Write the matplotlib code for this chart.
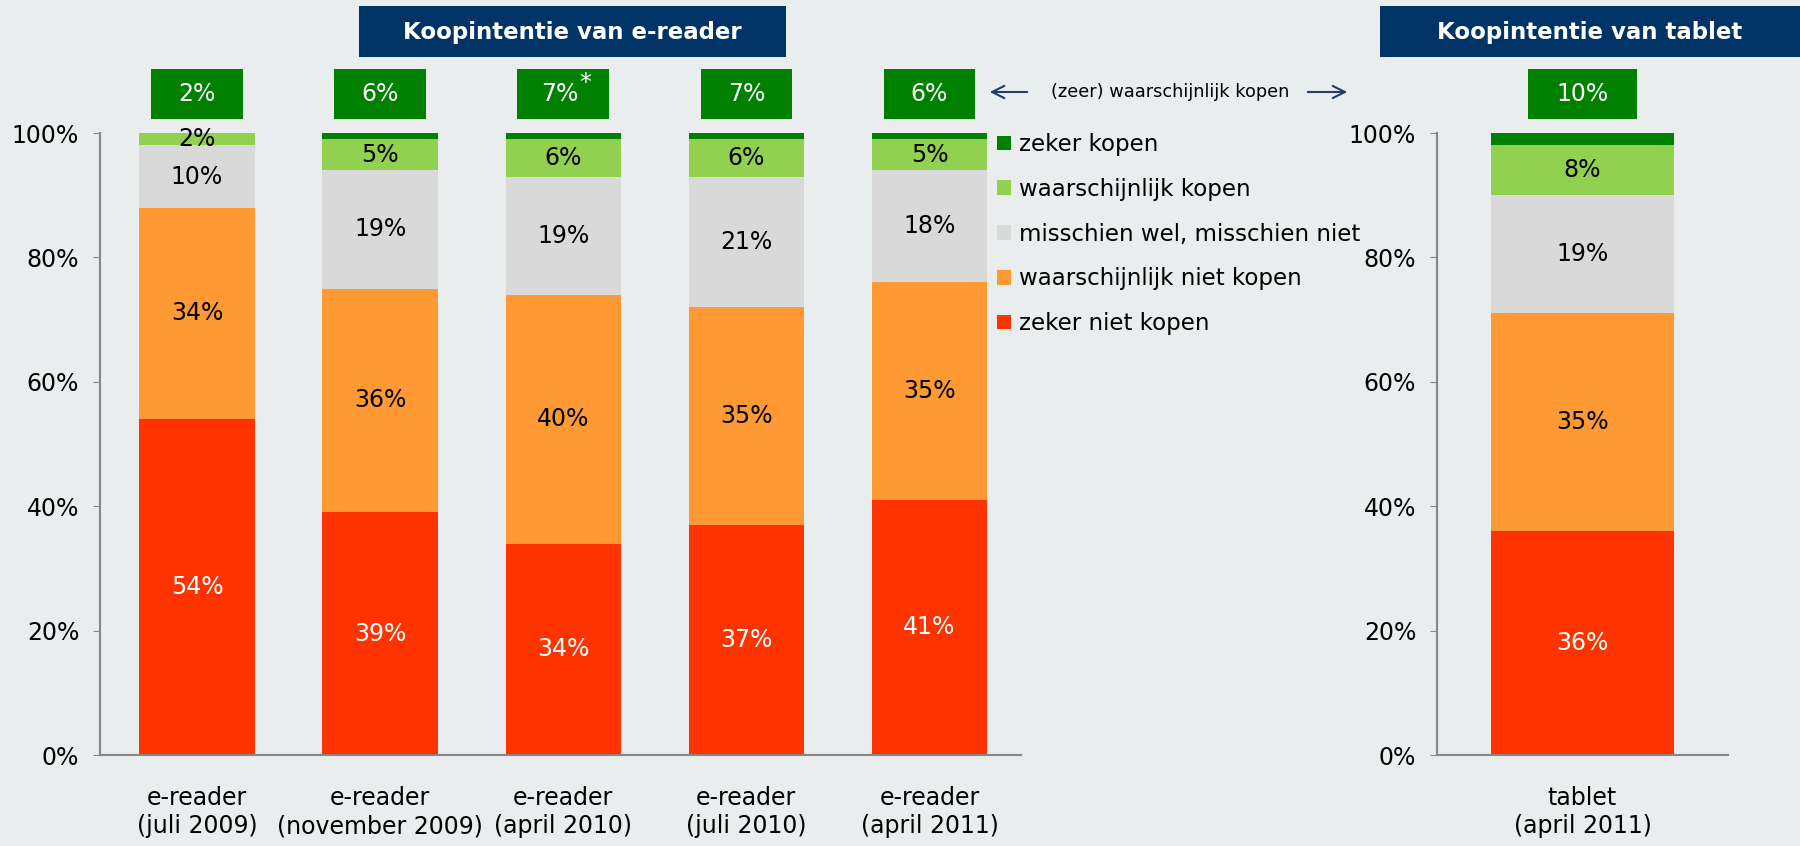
import numpy as np
import matplotlib.pyplot as plt
from matplotlib.patches import Rectangle, Patch
from matplotlib.transforms import blended_transform_factory

plt.rcParams['font.family'] = 'DejaVu Sans'

# data (shares in %, bottom to top)
categories = ['e-reader\n(juli 2009)', 'e-reader\n(november 2009)', 'e-reader\n(april 2010)',
              'e-reader\n(juli 2010)', 'e-reader\n(april 2011)']
zeker_niet = [54, 39, 34, 37, 41]
waarsch_niet = [34, 36, 40, 35, 35]
misschien = [10, 19, 19, 21, 18]
waarsch_wel = [2, 5, 6, 6, 5]
zeker_wel = [0, 1, 1, 1, 1]
totaal_kopen = ['2%', '6%', '7%', '7%', '6%']

tablet_cat = ['tablet\n(april 2011)']
tablet_vals = [36, 35, 19, 8, 2]
tablet_totaal = ['10%']

series_names = ['zeker niet kopen', 'waarschijnlijk niet kopen', 'misschien wel, misschien niet',
                'waarschijnlijk kopen', 'zeker kopen']
colors = ['#FF3300', '#FF9933', '#D9D9D9', '#92D050', '#008000']
label_colors = ['white', 'black', 'black', 'black', None]  # no labels on 'zeker kopen'

bg = '#E9EDEE'
navy = '#003366'
fs = 17

fig = plt.figure(figsize=(18, 8.46), dpi=100, facecolor=bg)
ax = fig.add_axes([100/1800, 91/846, 921/1800, 622/846])
ax2 = fig.add_axes([1437/1800, 91/846, 291/1800, 622/846])


def stacked(ax, data, cats, totals, bw, boxw):
    x = np.arange(len(cats))
    bottom = np.zeros(len(cats))
    for i, vals in enumerate(data):
        vals = np.array(vals, dtype=float)
        ax.bar(x, vals, bw, bottom=bottom, color=colors[i], linewidth=0, zorder=2)
        if label_colors[i] is not None:
            for xi, b, v in zip(x, bottom, vals):
                ax.text(xi, b + v / 2, '%d%%' % v, ha='center', va='center',
                        fontsize=fs, color=label_colors[i], zorder=3)
        bottom += vals
    # green total boxes above bars
    tr = blended_transform_factory(ax.transData, ax.transAxes)
    for xi, t in zip(x, totals):
        ax.add_patch(Rectangle((xi - boxw / 2, 1.0225), boxw, 0.0805, transform=tr,
                               facecolor='#008000', edgecolor='none', clip_on=False))
        if t == '7%' and xi == 2:
            ax.text(xi - 0.02, 1.062, t, transform=tr, ha='center', va='center',
                    fontsize=fs, color='white')
            ax.text(xi + 0.12, 1.08, '*', transform=tr, ha='center', va='center',
                    fontsize=fs, color='white')
        else:
            ax.text(xi, 1.062, t, transform=tr, ha='center', va='center',
                    fontsize=fs, color='white')
    ax.set_ylim(0, 100)
    ax.set_yticks(np.arange(0, 101, 20))
    ax.set_yticklabels(['%d%%' % v for v in range(0, 101, 20)], fontsize=fs)
    ax.set_xticks(x)
    ax.set_xticklabels(cats, fontsize=fs, linespacing=1.25)
    ax.tick_params(axis='x', length=0, pad=22)
    ax.tick_params(axis='y', length=5, color='#868686', pad=10)
    ax.set_facecolor(bg)
    for s in ['top', 'right']:
        ax.spines[s].set_visible(False)
    for s in ['left', 'bottom']:
        ax.spines[s].set_color('#868686')
        ax.spines[s].set_linewidth(1.5)
    return tr


ereader = [zeker_niet, waarsch_niet, misschien, waarsch_wel, zeker_wel]
stacked(ax, ereader, categories, totaal_kopen, 0.63, 0.5)
ax.set_xlim(-0.53, 4.5)

tablet = [[v] for v in tablet_vals]
stacked(ax2, tablet, tablet_cat, tablet_totaal, 0.632, 0.375)
ax2.set_xlim(-0.5, 0.5)

# title boxes
for x0, w, title in [(359, 427, 'Koopintentie van e-reader'), (1380, 420, 'Koopintentie van tablet')]:
    fig.patches.append(Rectangle((x0/1800, 789/846), w/1800, 51/846, transform=fig.transFigure,
                                 facecolor=navy, edgecolor='none'))
    fig.text((x0 + w/2)/1800, 814/846, title, ha='center', va='center',
             fontsize=16.5, fontweight='bold', color='white')

# arrow annotation
fig.text(1170/1800, 754/846, '(zeer) waarschijnlijk kopen', ha='center', va='center', fontsize=12.8)
ax.annotate('', xy=(987, 754), xycoords='figure pixels', xytext=(1030, 754),
            textcoords='figure pixels', arrowprops=dict(arrowstyle='->', color='#1F3E6E', lw=1.5,
                                                        mutation_scale=22))
ax.annotate('', xy=(1350, 754), xycoords='figure pixels', xytext=(1305, 754),
            textcoords='figure pixels', arrowprops=dict(arrowstyle='->', color='#1F3E6E', lw=1.5,
                                                        mutation_scale=22))

# legend
handles = [Patch(facecolor=colors[i], edgecolor='none', label=series_names[i]) for i in range(4, -1, -1)]
fig.legend(handles=handles, loc='upper left', bbox_to_anchor=(997/1800, 713/846), frameon=False,
           fontsize=16.5, handlelength=0.6, handleheight=0.6, handletextpad=0.35,
           labelspacing=0.95, borderaxespad=0, borderpad=0)

fig.savefig('out.png', dpi=100, facecolor=bg)
